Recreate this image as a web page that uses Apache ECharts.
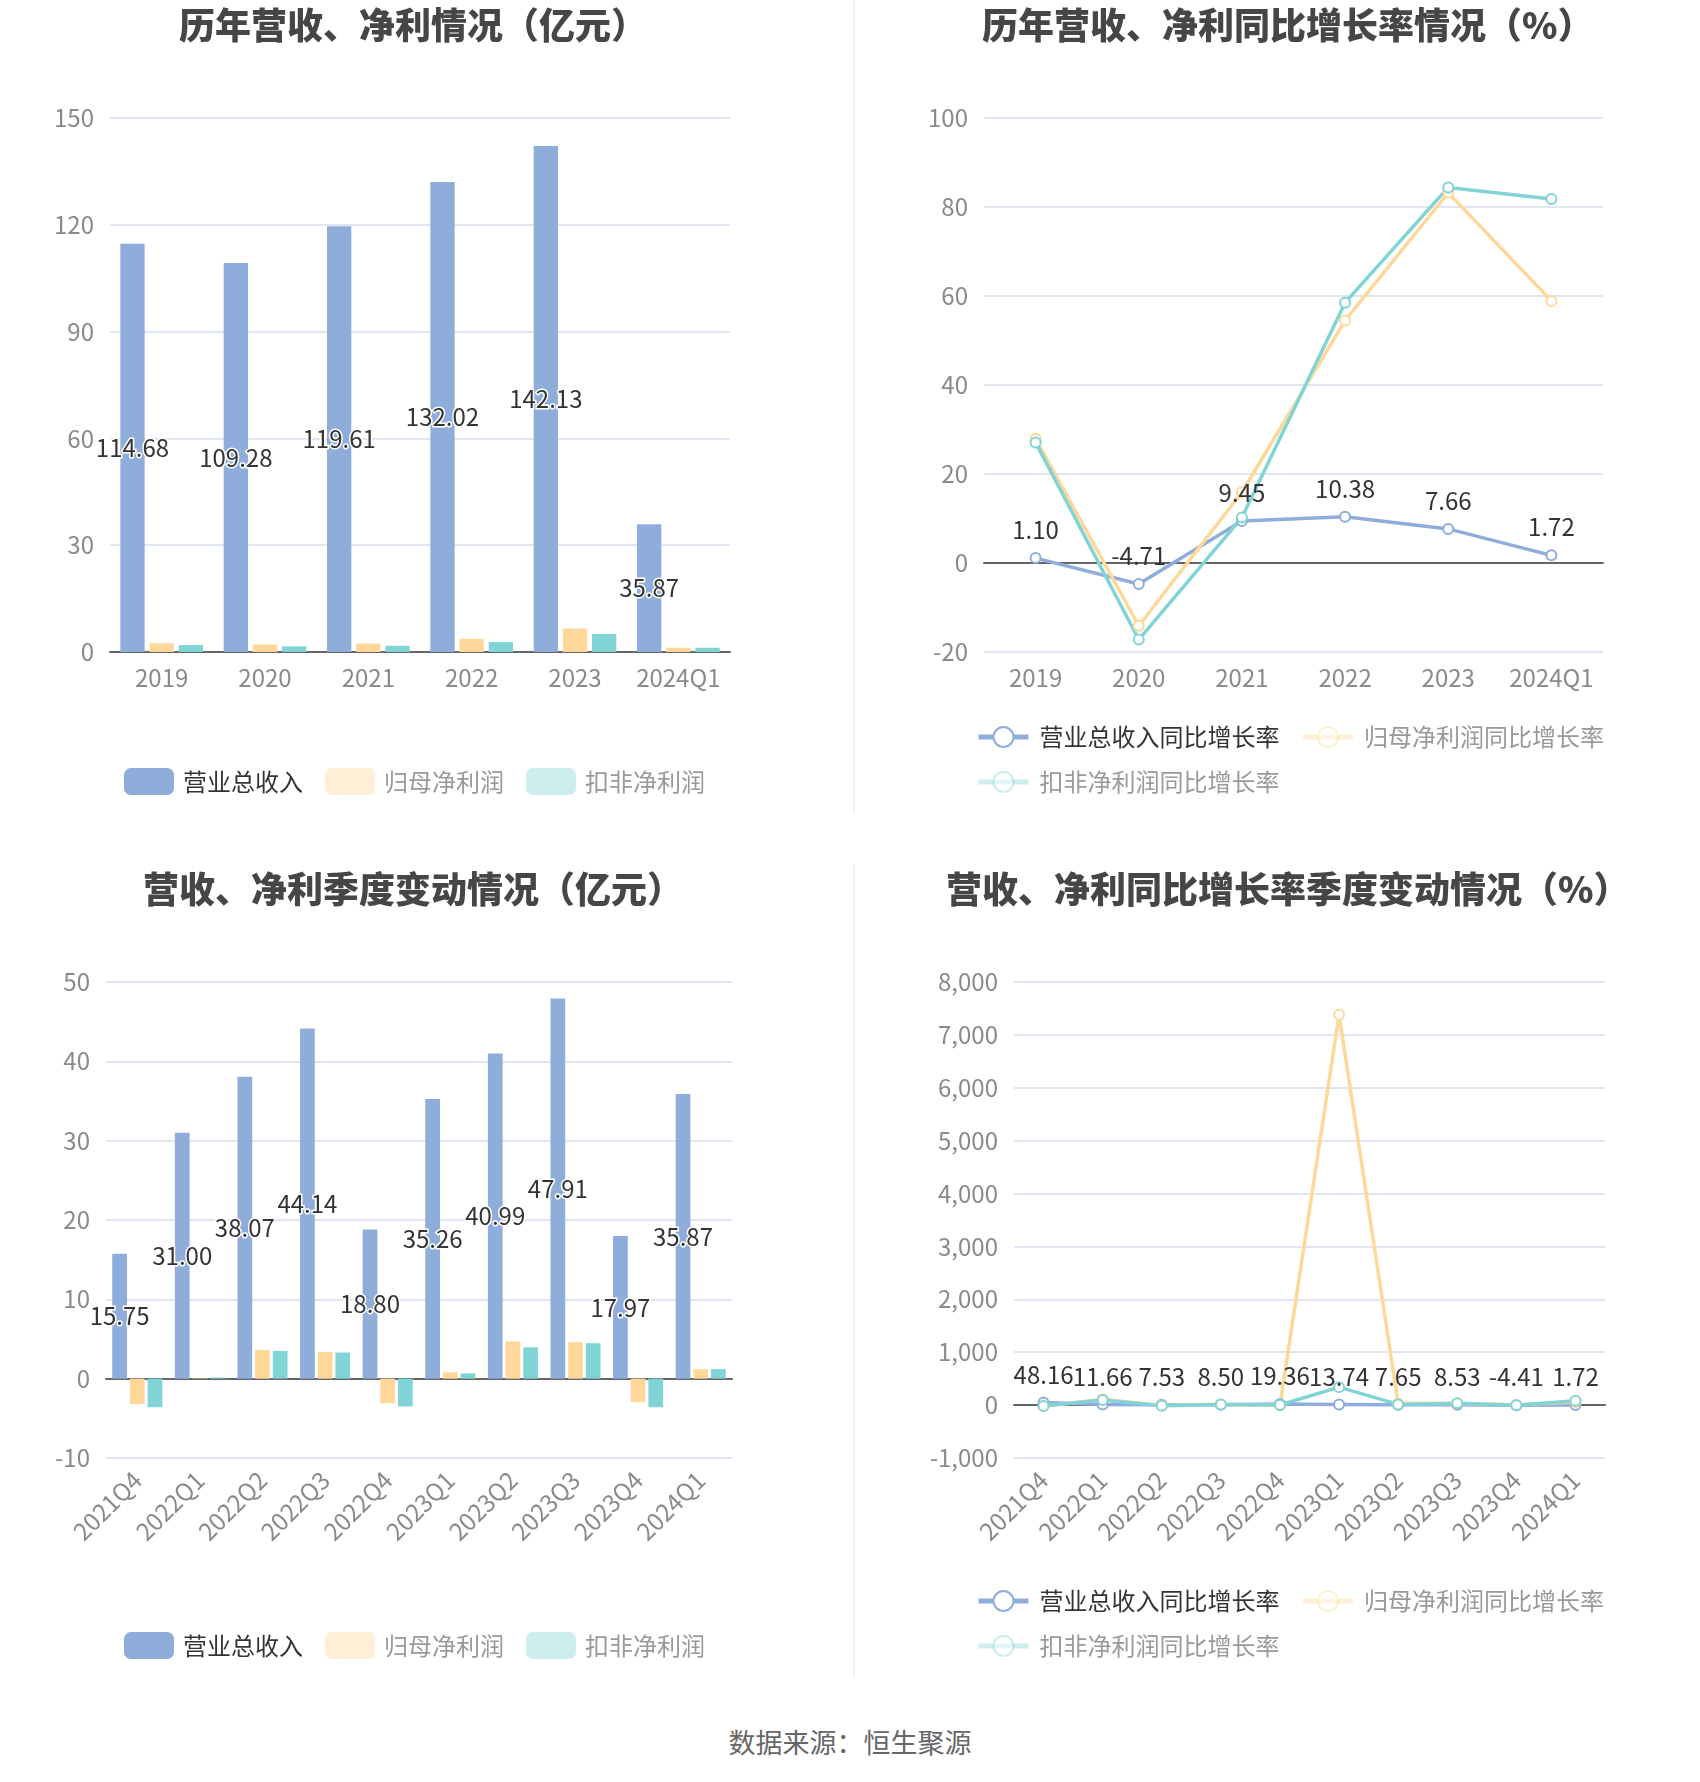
<!DOCTYPE html>
<html lang="zh-CN">
<head>
<meta charset="utf-8">
<title>营收、净利情况</title>
<script src="https://cdn.jsdelivr.net/npm/echarts@6/dist/echarts.min.js"></script>
<style>
  html, body { margin: 0; padding: 0; background: #fff; }
  #page { position: relative; width: 1700px; height: 1782px; font-family: "Noto Sans CJK SC", sans-serif; }
  .box { position: absolute; }
  .sep { border-left: 2px solid #f0f0f0; }
  #source { position: absolute; left: 0; width: 1700px; top: 1722px; text-align: center; font-size: 27px; color: #666; }
</style>
</head>
<body>
<div id="page">
  <div id="c1" class="box" style="left:0;top:0;width:808px;height:860px;"></div>
  <div class="box sep" style="left:853px;top:0;width:0;height:812px;"></div>
  <div id="c2" class="box" style="left:855px;top:0;width:845px;height:860px;"></div>
  <div id="c3" class="box" style="left:0;top:864px;width:808px;height:836px;"></div>
  <div class="box sep" style="left:853px;top:864px;width:0;height:812px;"></div>
  <div id="c4" class="box" style="left:855px;top:864px;width:845px;height:836px;"></div>
  <div id="source">数据来源：恒生聚源</div>
</div>
<script>
// 年度数据
var years = ['2019', '2020', '2021', '2022', '2023', '2024Q1'];
var yearRevenue = [114.68, 109.28, 119.61, 132.02, 142.13, 35.87];
var yearNetProfit = [2.45, 2.1, 2.4, 3.7, 6.6, 1.2];
var yearDeducted = [1.95, 1.6, 1.75, 2.8, 5.1, 1.2];

var yearRevenueGrowth = [1.10, -4.71, 9.45, 10.38, 7.66, 1.72];
var yearNetProfitGrowth = [27.9, -14.1, 15.9, 54.5, 83.2, 58.9];
var yearDeductedGrowth = [27.1, -17.2, 10.2, 58.5, 84.4, 81.8];

// 季度数据
var quarters = ['2021Q4', '2022Q1', '2022Q2', '2022Q3', '2022Q4', '2023Q1', '2023Q2', '2023Q3', '2023Q4', '2024Q1'];
var qRevenue = [15.75, 31.00, 38.07, 44.14, 18.80, 35.26, 40.99, 47.91, 17.97, 35.87];
var qNetProfit = [-3.2, 0.05, 3.6, 3.35, -3.1, 0.8, 4.7, 4.6, -2.96, 1.2];
var qDeducted = [-3.6, 0.15, 3.5, 3.3, -3.5, 0.66, 3.95, 4.47, -3.6, 1.2];

var qRevenueGrowth = [48.16, 11.66, 7.53, 8.50, 19.36, 13.74, 7.65, 8.53, -4.41, 1.72];
var qNetProfitGrowth = [-20, 110, -5, 15, -5, 7380, 30, 37, 5, 58.9];
var qDeductedGrowth = [-15, 95, -10, 12, 3, 340, 13, 35, -3, 81.8];

var barNames = ['营业总收入', '归母净利润', '扣非净利润'];
var lineNames = ['营业总收入同比增长率', '归母净利润同比增长率', '扣非净利润同比增长率'];
var colors = ['#8eaddb', '#ffd899', '#80d4d6'];
var FONT = '"Noto Sans CJK SC", sans-serif';

function title(text, left) {
    return {
        text: text, left: left, top: 2,
        textStyle: { fontFamily: FONT, fontSize: 36, fontWeight: 900, color: '#464646' }
    };
}

function legendData(names) {
    return names.map(function (n, i) {
        if (i === 0) return { name: n, textStyle: { color: '#333' } };
        return { name: n, itemStyle: { opacity: 0.4 }, lineStyle: { opacity: 0.4 }, textStyle: { color: '#999' } };
    });
}

function yAxis(min, max, interval, margin) {
    return {
        type: 'value', min: min, max: max, interval: interval,
        axisLine: { show: false }, axisTick: { show: false },
        axisLabel: { fontFamily: FONT, fontSize: 24, color: '#8a8a8a', margin: margin },
        splitLine: { lineStyle: { color: '#e0e6f1', width: 2 } }
    };
}

function xAxis(cats, margin, rotate) {
    return {
        type: 'category', data: cats,
        axisLine: { lineStyle: { color: '#666', width: 2 } },
        axisTick: { alignWithLabel: true, length: 8, lineStyle: { color: '#666', width: 2 } },
        axisLabel: { fontFamily: FONT, fontSize: 24, color: '#8a8a8a', margin: margin, rotate: rotate || 0, interval: 0 }
    };
}

function barOption(ttl, titleLeft, cats, s1, s2, s3, grid, ymin, ymax, yint, xmargin, rotate) {
    var lbl = {
        show: true, position: 'inside', fontFamily: FONT, fontSize: 24, color: '#333',
        textBorderColor: '#fff', textBorderWidth: 3,
        formatter: function (p) { return p.value.toFixed(2); }
    };
    return {
        animation: false,
        color: colors,
        title: title(ttl, titleLeft),
        grid: grid,
        legend: {
            data: legendData(barNames), left: 119, top: 763,
            icon: 'roundRect', itemWidth: 50, itemHeight: 27, itemGap: 22,
            textStyle: { fontFamily: FONT, fontSize: 24, padding: [0, 0, 0, 4] }
        },
        xAxis: xAxis(cats, xmargin, rotate),
        yAxis: yAxis(ymin, ymax, yint, 16),
        series: [
            { name: barNames[0], type: 'bar', data: s1, barGap: '20%', barCategoryGap: '20%', label: lbl, z: 3 },
            { name: barNames[1], type: 'bar', data: s2, barGap: '20%', barCategoryGap: '20%' },
            { name: barNames[2], type: 'bar', data: s3, barGap: '20%', barCategoryGap: '20%' }
        ]
    };
}

function lineOption(ttl, titleLeft, cats, s1, s2, s3, grid, ymin, ymax, yint, xmargin, rotate, yfmt) {
    function ser(name, data, withLabel) {
        var s = {
            name: name, type: 'line', data: data,
            symbol: 'emptyCircle', symbolSize: 10,
            lineStyle: { width: 3.5 },
            itemStyle: { borderWidth: 2.5 }
        };
        if (withLabel) {
            s.label = {
                show: true, position: 'top', distance: 10, fontFamily: FONT, fontSize: 24, color: '#333',
                formatter: function (p) { return p.value.toFixed(2); }
            };
        }
        return s;
    }
    var y = yAxis(ymin, ymax, yint, 16);
    if (yfmt) y.axisLabel.formatter = yfmt;
    return {
        animation: false,
        color: colors,
        title: title(ttl, titleLeft),
        grid: grid,
        legend: {
            data: legendData(lineNames), left: 116, right: 97, top: 720,
            itemWidth: 50, itemHeight: 25, itemGap: 21,
            lineStyle: { width: 5 },
            itemStyle: { borderWidth: 4 },
            textStyle: { fontFamily: FONT, fontSize: 24, padding: [0, 0, 0, 6] }
        },
        xAxis: xAxis(cats, xmargin, rotate),
        yAxis: y,
        series: [
            ser(lineNames[0], s1, true),
            ser(lineNames[1], s2, false),
            ser(lineNames[2], s3, false)
        ]
    };
}

var chart1 = echarts.init(document.getElementById('c1'));
chart1.setOption(barOption('历年营收、净利情况（亿元）', 174, years, yearRevenue, yearNetProfit, yearDeducted,
    { left: 110, right: 78, top: 118, height: 534 }, 0, 150, 30, 14, 0));

var chart2 = echarts.init(document.getElementById('c2'));
chart2.setOption(lineOption('历年营收、净利同比增长率情况（%）', 122, years, yearRevenueGrowth, yearNetProfitGrowth, yearDeductedGrowth,
    { left: 129, right: 97, top: 118, height: 534 }, -20, 100, 20, 14, 0));

var chart3 = echarts.init(document.getElementById('c3'));
chart3.setOption(barOption('营收、净利季度变动情况（亿元）', 138, quarters, qRevenue, qNetProfit, qDeducted,
    { left: 106, right: 76, top: 118, height: 476 }, -10, 50, 10, 18, 45));

var chart4 = echarts.init(document.getElementById('c4'));
chart4.setOption(lineOption('营收、净利同比增长率季度变动情况（%）', 86, quarters, qRevenueGrowth, qNetProfitGrowth, qDeductedGrowth,
    { left: 159, right: 95, top: 118, height: 476 }, -1000, 8000, 1000, 18, 45,
    function (v) { return v.toLocaleString('en-US'); }));
</script>
</body>
</html>
